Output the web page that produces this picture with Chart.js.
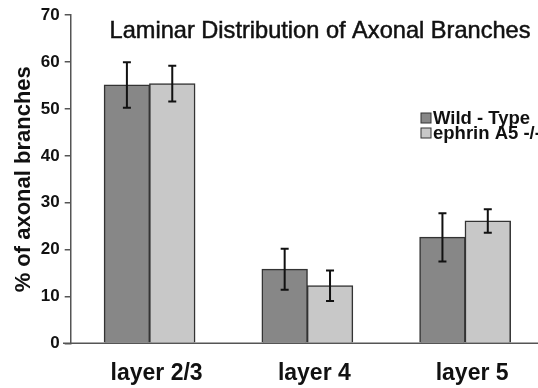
<!DOCTYPE html>
<html>
<head>
    <title>Laminar Distribution of Axonal Branches</title>
    <script src="https://cdn.jsdelivr.net/npm/chart.js@4.4.0/dist/chart.umd.min.js"></script>
    <style>
        * {
            margin: 0;
            padding: 0;
            box-sizing: border-box;
        }

        body {
            background: #fff;
            width: 538px;
            height: 388px;
            overflow: hidden;
        }

        .chart-container {
            position: relative;
            width: 538px;
            height: 388px;
            overflow: hidden;
        }
    </style>
</head>
<body>
    <div class="chart-container">
        <!-- a little wider than the window: the last category runs past the edge -->
        <canvas id="branchChart" width="544" height="388"></canvas>
    </div>

    <script>
        const categories = ['layer 2/3', 'layer 4', 'layer 5'];
        const wildType = [55.1, 15.8, 22.6];
        const wildTypeErr = [4.85, 4.35, 5.15];
        const ephrin = [55.4, 12.3, 26.1];
        const ephrinErr = [3.8, 3.25, 2.5];
        const yTicks = [0, 10, 20, 30, 40, 50, 60, 70];

        const FONT = '"Liberation Sans", Arial, Helvetica, sans-serif';

        // Error bars from each dataset's errors array
        const errorBars = {
            id: 'errorBars',
            afterDatasetsDraw(chart) {
                const ctx = chart.ctx;
                const y = chart.scales.y;
                ctx.save();
                ctx.strokeStyle = '#111';
                ctx.lineWidth = 2;
                chart.data.datasets.forEach((ds, i) => {
                    const meta = chart.getDatasetMeta(i);
                    meta.data.forEach((bar, j) => {
                        const v = ds.data[j];
                        const e = ds.errors[j];
                        const top = y.getPixelForValue(v + e);
                        const bot = y.getPixelForValue(v - e);
                        ctx.beginPath();
                        ctx.moveTo(bar.x, top);
                        ctx.lineTo(bar.x, bot);
                        ctx.moveTo(bar.x - 4, top);
                        ctx.lineTo(bar.x + 4, top);
                        ctx.moveTo(bar.x - 4, bot);
                        ctx.lineTo(bar.x + 4, bot);
                        ctx.stroke();
                    });
                });
                ctx.restore();
            }
        };

        // Title, legend and the x-axis line running out to the edges
        const decorations = {
            id: 'decorations',
            afterDraw(chart) {
                const ctx = chart.ctx;
                const y0 = chart.scales.y.getPixelForValue(0);
                ctx.save();
                ctx.strokeStyle = '#555';
                ctx.lineWidth = 1.5;
                ctx.beginPath();
                ctx.moveTo(63, y0);
                ctx.lineTo(chart.width, y0);
                ctx.stroke();

                ctx.fillStyle = '#111';
                ctx.strokeStyle = '#111';
                ctx.lineWidth = 0.5;
                ctx.font = '23.6px ' + FONT;
                ctx.textAlign = 'center';
                ctx.textBaseline = 'middle';
                ctx.fillText('Laminar Distribution of Axonal Branches', 320, 31);
                ctx.strokeText('Laminar Distribution of Axonal Branches', 320, 31);

                ctx.font = 'bold 18.5px ' + FONT;
                ctx.textAlign = 'left';
                chart.data.datasets.forEach((ds, i) => {
                    const cy = 118 + i * 15;
                    ctx.fillStyle = ds.backgroundColor;
                    ctx.fillRect(421, cy - 5, 10, 10);
                    ctx.strokeStyle = '#333';
                    ctx.lineWidth = 1;
                    ctx.strokeRect(421, cy - 5, 10, 10);
                    ctx.fillStyle = '#111';
                    ctx.fillText(ds.label, 433, cy + 1);
                });
                ctx.restore();
            }
        };

        const ctx = document.getElementById('branchChart').getContext('2d');
        new Chart(ctx, {
            type: 'bar',
            data: {
                labels: categories,
                datasets: [{
                    label: 'Wild - Type',
                    data: wildType,
                    errors: wildTypeErr,
                    backgroundColor: '#878787',
                    borderColor: '#333',
                    borderWidth: 1.5
                }, {
                    label: 'ephrin A5 -/-',
                    data: ephrin,
                    errors: ephrinErr,
                    backgroundColor: '#c8c8c8',
                    borderColor: '#333',
                    borderWidth: 1.5
                }]
            },
            options: {
                responsive: false,
                animation: false,
                layout: {
                    padding: { left: 0, right: 0, top: 15, bottom: 0 }
                },
                plugins: {
                    legend: { display: false },
                    tooltip: { enabled: false }
                },
                datasets: {
                    bar: {
                        categoryPercentage: 0.575,
                        barPercentage: 1,
                        inflateAmount: 0.5
                    }
                },
                scales: {
                    x: {
                        afterFit(scale) { scale.height = 44.7; },
                        grid: { display: false, drawTicks: false },
                        border: { display: false },
                        ticks: {
                            color: '#111',
                            padding: 17,
                            labelOffset: 7,
                            font: { family: FONT, size: 23, weight: 'bold' }
                        }
                    },
                    y: {
                        min: 0,
                        max: 70,
                        afterFit(scale) { scale.width = 70.7; },
                        afterBuildTicks(scale) {
                            scale.ticks = yTicks.map(v => ({ value: v }));
                        },
                        grid: {
                            drawOnChartArea: false,
                            drawTicks: true,
                            tickLength: 6,
                            color: '#555',
                            lineWidth: 1.5
                        },
                        border: { color: '#555', width: 1.5 },
                        ticks: {
                            color: '#111',
                            padding: 5,
                            font: { family: FONT, size: 17, weight: 'bold' }
                        },
                        title: {
                            display: true,
                            text: '% of axonal branches',
                            color: '#111',
                            padding: { top: 11, bottom: 0 },
                            font: { family: FONT, size: 22, weight: 'bold' }
                        }
                    }
                }
            },
            plugins: [errorBars, decorations]
        });
    </script>
</body>
</html>
